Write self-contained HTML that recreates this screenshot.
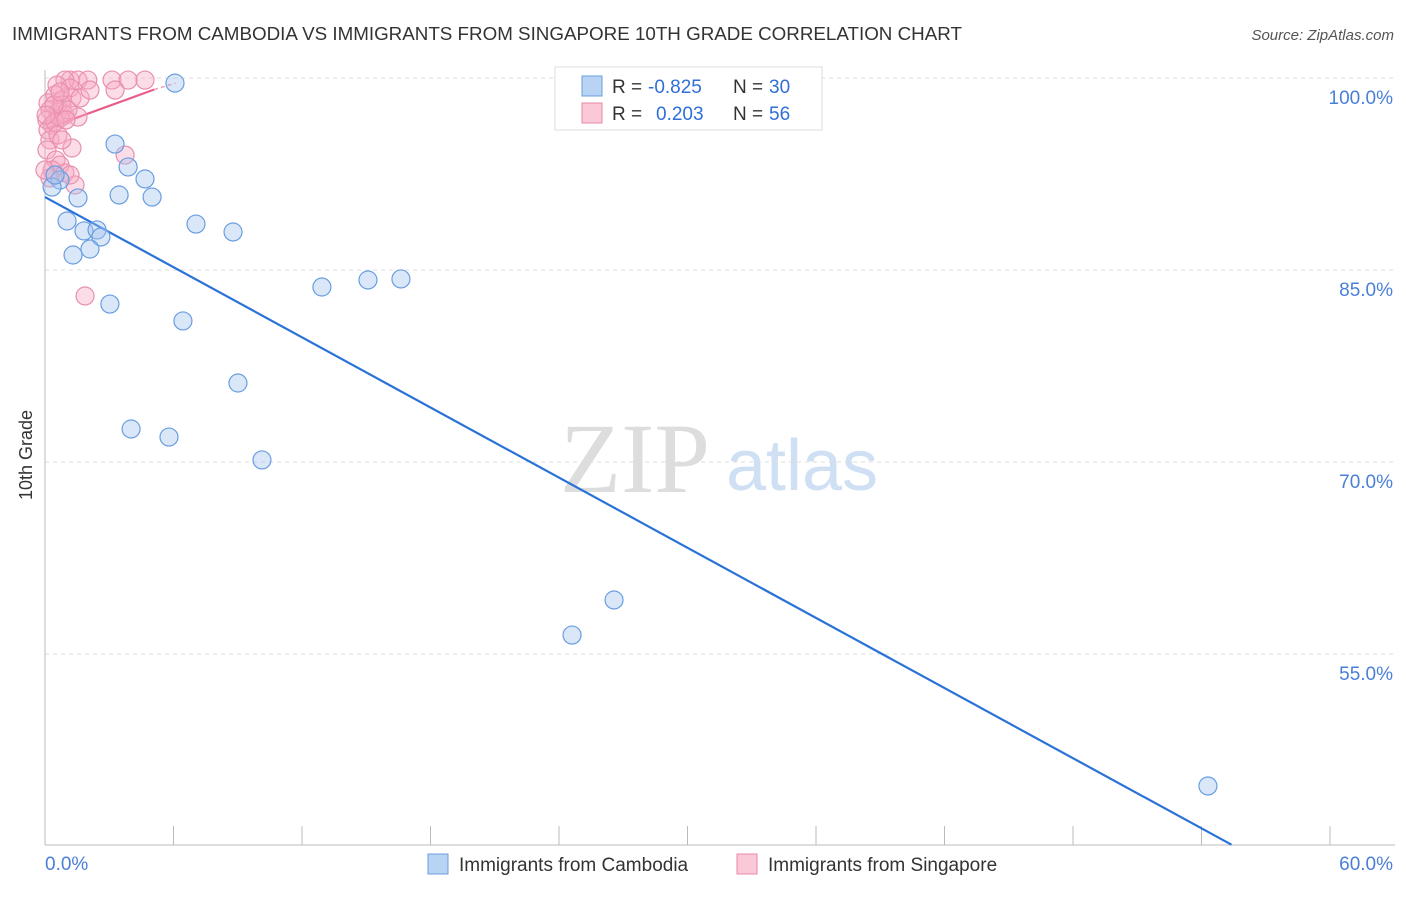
<!DOCTYPE html>
<html><head><meta charset="utf-8"><style>
body{margin:0;background:#fff;font-family:"Liberation Sans",sans-serif;}
</style></head><body>
<svg id="c" width="1406" height="892" xmlns="http://www.w3.org/2000/svg">
<text x="12" y="40" font-size="18.8" fill="#333">IMMIGRANTS FROM CAMBODIA VS IMMIGRANTS FROM SINGAPORE 10TH GRADE CORRELATION CHART</text>
<text x="1394" y="40" font-size="15" fill="#555" font-style="italic" text-anchor="end">Source: ZipAtlas.com</text>
<g>
<text x="635" y="492" font-size="100" fill="#ddd" font-family="Liberation Serif,serif" text-anchor="middle">ZIP</text>
<text x="802" y="490" font-size="72" fill="#cfe0f5" text-anchor="middle">atlas</text>
</g>
<g id="grid"></g><g id="axes"></g><g id="lines"></g><g id="pts"></g>
<text x="32" y="455" font-size="18" fill="#333" text-anchor="middle" transform="rotate(-90 32 455)">10th Grade</text>
<g>
<rect x="555" y="67" width="267" height="63" fill="#fff" stroke="#ddd"/>
<rect x="582" y="76" width="20" height="20" fill="#b9d3f5" stroke="#6a9ee0"/>
<rect x="582" y="103" width="20" height="20" fill="#fbc8d8" stroke="#e88aa8"/>
<text x="612" y="93" font-size="19" fill="#333">R =</text>
<text x="648" y="93" font-size="19" fill="#2f6fd6">-0.825</text>
<text x="733" y="93" font-size="19" fill="#333">N =</text>
<text x="769" y="93" font-size="19" fill="#2f6fd6">30</text>
<text x="612" y="120" font-size="19" fill="#333">R =</text>
<text x="656" y="120" font-size="19" fill="#2f6fd6">0.203</text>
<text x="733" y="120" font-size="19" fill="#333">N =</text>
<text x="769" y="120" font-size="19" fill="#2f6fd6">56</text>
</g>
<g>
<rect x="428" y="854" width="20" height="20" fill="#b9d3f5" stroke="#6a9ee0"/>
<text x="459" y="871" font-size="19" fill="#333">Immigrants from Cambodia</text>
<rect x="737" y="854" width="20" height="20" fill="#fbc8d8" stroke="#e88aa8"/>
<text x="768" y="871" font-size="19" fill="#333">Immigrants from Singapore</text>
</g>
</svg>
<script>
const blueX=[6.07,3.27,3.88,4.67,0.70,0.33,3.46,5.0,1.54,1.03,7.05,8.78,1.82,2.43,2.61,2.1,1.31,12.93,15.08,16.62,3.03,6.44,9.01,4.02,5.79,10.13,26.57,24.61,54.3,0.47];
const blueY=[99.6,94.84,93.05,92.11,92.03,91.48,90.86,90.7,90.63,88.83,88.59,87.97,88.05,88.13,87.58,86.64,86.17,83.67,84.22,84.3,82.34,81.02,76.17,72.58,71.95,70.16,59.22,56.48,44.69,92.42];
const pinkX=[1.17,1.54,2.0,3.13,3.88,4.67,0.93,0.56,3.27,1.17,0.47,0.79,0.14,1.26,0.23,0.61,0.93,1.54,0.09,0.33,0.7,0.14,0.47,0.23,1.26,3.74,0.09,0.51,0.7,0.33,0.93,1.4,1.87,0.79,1.07,0.42,0.05,0.61,0.23,0.98,1.64,2.1,0.7,0.0,0.79,1.17];
const pinkY=[99.84,99.84,99.84,99.84,99.84,99.84,99.84,99.45,99.06,99.22,98.67,98.28,98.05,98.44,97.5,97.34,97.1,96.95,96.72,96.33,96.88,95.94,96.56,95.16,94.53,93.98,94.38,93.59,93.2,92.81,92.58,91.64,82.97,97.89,97.5,97.89,97.1,95.55,92.19,96.72,98.44,99.06,98.91,92.81,95.16,92.42];
const yTicks=[100,85,70,55];
const yTickLabels=["100.0%","85.0%","70.0%","55.0%"];
const xTicks=[0,6,12,18,24,30,36,42,48,54,60];
const blueLine=[[0,90.7],[55.4,40.1]];
const pinkLine=[[0,96.0],[5.1,99.1]];
const pinkDash=[[5.1,99.1],[6.1,99.6]];
const NS="http://www.w3.org/2000/svg";
const sx=v=>45+v*(1330-45)/60;
const sy=v=>78+(100-v)*192/15;
function mk(tag,attrs,parent){const e=document.createElementNS(NS,tag);for(const k in attrs)e.setAttribute(k,attrs[k]);document.getElementById(parent).appendChild(e);return e;}
yTicks.forEach((t,i)=>{
 const g=mk('line',{x1:45,x2:1395,y1:sy(t),y2:sy(t),stroke:'#ddd','stroke-dasharray':'4,4'},'grid');
 
 
 const l=mk('text',{x:1393,y:sy(t)+26,'font-size':19,fill:'#4a7fd6','text-anchor':'end'},'grid');
 l.textContent=yTickLabels[i];
 
 
});
const ax=mk('line',{x1:45,x2:1395,y1:845,y2:845,stroke:'#bbb'},'axes');


const ay=mk('line',{x1:45,x2:45,y1:70,y2:845,stroke:'#bbb'},'axes');


xTicks.forEach(t=>{
 const k=mk('line',{x1:sx(t),x2:sx(t),y1:826,y2:845,stroke:'#bbb'},'axes');
 
 
});
[[0,"0.0%","start",45],[60,"60.0%","end",1393]].forEach(a=>{
 const l=mk('text',{x:a[3],y:870,'font-size':19,fill:'#4a7fd6','text-anchor':a[2]},'axes');
 l.textContent=a[1];
 
 
});
function pts(X,Y,fill,stroke,name){X.forEach((x,i)=>{
 const c=mk('circle',{cx:sx(x),cy:sy(Y[i]),r:9,fill:fill,stroke:stroke,'stroke-width':1.2},'pts');
 
 
});}
pts(pinkX,pinkY,'rgba(247,170,196,0.4)','#e890ad','singapore-point');
pts(blueX,blueY,'rgba(160,196,240,0.4)','#6a9ee0','cambodia-point');
function ln(L,col,w,dash,name){const e=mk('line',{x1:sx(L[0][0]),y1:sy(L[0][1]),x2:sx(L[1][0]),y2:sy(L[1][1]),stroke:col,'stroke-width':w},'lines');if(dash)e.setAttribute('stroke-dasharray',dash);
 
 }
ln(blueLine,'#2a72d8',2.2,null,'cambodia-trendline');
ln(pinkLine,'#e8608a',2.2,null,'singapore-trendline');
ln(pinkDash,'#f0a0bb',1.5,'4,3','singapore-trendline-extension');
</script>
</body></html>
